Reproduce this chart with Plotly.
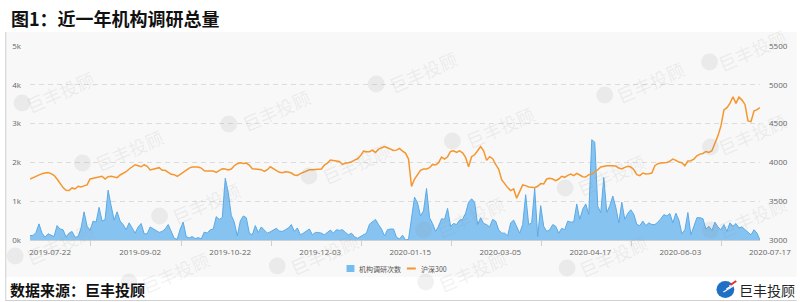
import plotly.graph_objects as go

# ---------------- data ----------------
visits = [115,115,195,416,177,71,160,133,88,372, 283,265,71,177,221,71,88,310,726,354,
          248,487,460,841,487,531,1283,885,513,726, 487,398,265,442,310,177,336,425,160,160,
          336,283,248,195,221,283,398,195,44,18,
          283,460,88,53,88,35,62,27,204,177, 265,283,602,531,575,1593,1221,637,460,106,
          487,620,575,177,133,372,195,336,265,177, 212,265,301,230,221,265,310,398,221,310,
          133,177,221,283,133,195,195,177,133,
          195,257,177,265,248,265,195,133,177,88, 44,88,124,177,407,460,531,398,283,106,
          265,283,283,71,27,124,0,18,620,1106, 956,620,752,1328,575,425,221,354,549,531,
          814,354,425,398,513,531,690,974,1062,
          974,398,575,425,398,336,531,487,265,177, 177,106,442,513,354,177,398,1168,398,442,
          1328,88,885,354,221,265,398,354,177,301, 265,487,460,469,929,531,796,929,664,2584,
          2522,867,708,1611,708,885,1133,841,442,974,
          531,690,779,664,398,372,487,372,442,398, 398,460,549,655,620,681,442,690,513,160,
          265,708,133,354,575,575,549,283,354,248, 460,336,265,398,221,442,354,425,310,336,
          265,195,133,265,177,0]

csi300 = [3786,3804,3825,3842,3855,3863,3868,3855,3833,3786, 3727,3675,3641,3637,3671,3658,3692,3684,3697,3710,
          3786,3795,3795,3804,3821,3786,3816,3821,3816,3804, 3838,3855,3880,3915,3944,3970,3957,3944,3970,3949,
          3902,3915,3923,3932,3898,3898,3872,3846,3842,3821,
          3846,3872,3902,3927,3940,3944,3940,3927,3893,3889, 3885,3889,3872,3893,3919,3915,3902,3915,3957,3983,
          3996,3987,3991,3966,3919,3915,3915,3906,3885,3906, 3944,3923,3898,3872,3868,3880,3876,3863,3838,3833,
          3855,3872,3893,3906,3906,3906,3910,3915,
          3966,3991,4030,4026,4021,4013,3974,3991,3996,4004, 4030,4047,4085,4145,4137,4137,4158,4128,4171,4184,
          4205,4188,4167,4154,4158,4180,4145,4120,4043,3689, 3786,3850,3898,3915,3915,3932,3974,3966,3996,4068,
          4043,4073,4141,4150,4128,4150,4124,4064,3944,4073,
          4098,4150,4205,4150,4026,4073,4047,3974,3915,3778, 3723,3675,3637,3658,3539,3624,3710,3701,3684,3680,
          3675,3692,3727,3723,3786,3795,3786,3765,3786,3821, 3808,3833,3850,3829,3859,3838,3816,3812,3842,3850,
          3876,3906,3940,3953,3957,3957,3957,3953,3927,
          3915,3936,3949,3940,3906,3842,3829,3863,3850,3855, 3863,3957,3983,3991,3991,4000,4017,4043,4026,4004,
          3996,3957,4017,4021,4043,4085,4107,4115,4141,4128, 4150,4235,4342,4470,4675,4705,4760,4846,4760,4841,
          4803,4747,4534,4525,4662,4679,4705]

date_labels = ["2019-07-22", "2019-09-02", "2019-10-22", "2019-12-03",
               "2020-01-15", "2020-03-05", "2020-04-17", "2020-06-03", "2020-07-17"]
left_ticks = [0, 1000, 2000, 3000, 4000, 5000]
left_text = ["0k", "1k", "2k", "3k", "4k", "5k"]
right_ticks = [3000, 3500, 4000, 4500, 5000, 5500]
series_names = ["机构调研次数", "沪深300"]

# ---------------- layout helpers ----------------
W, H = 800, 302
L, R, T, B = 25, 37, 46, 62
PW, PH = W - L - R, H - T - B


def px(x):
    return (x - L) / PW


def py(y):
    return (H - B - y) / PH


n = len(visits)
xs = list(range(n))
label_pos = [6.7 + 29.97 * k for k in range(len(date_labels))]
minor_pos = [p + 13.6 for p in label_pos[:-1]]
minor_pos = [p for p in minor_pos if 0 <= p <= n - 1]

BLUE_FILL = "rgba(102,180,238,0.78)"
BLUE_LINE = "#5aaae6"
ORANGE = "#f5962e"
TICKFONT = dict(family="Open Sans, Liberation Sans, sans-serif", size=8, color="#666")

fig = go.Figure()
fig.add_trace(go.Scatter(x=xs, y=visits, mode="lines", fill="tozeroy",
                         line=dict(color=BLUE_LINE, width=1), fillcolor=BLUE_FILL,
                         name=series_names[0], showlegend=False))
fig.add_trace(go.Scatter(x=xs, y=csi300, mode="lines", yaxis="y2",
                         line=dict(color=ORANGE, width=1.5),
                         name=series_names[1], showlegend=False))

shapes = []
annotations = []

# chart background band
shapes.append(dict(type="rect", xref="paper", yref="paper",
                   x0=px(0), x1=px(800), y0=py(277), y1=py(32),
                   fillcolor="#f8f8f8", line=dict(width=0), layer="below"))
# border lines
shapes.append(dict(type="line", xref="paper", yref="paper",
                   x0=px(0.5), x1=px(0.5), y0=py(301), y1=py(32),
                   line=dict(color="#d0d0d0", width=1), layer="below"))
shapes.append(dict(type="line", xref="paper", yref="paper",
                   x0=px(0), x1=px(800), y0=py(300.5), y1=py(300.5),
                   line=dict(color="#d0d0d0", width=1), layer="below"))

# watermarks (logo circle + rotated text)
wm_units = [(17, 103, 55, 92), (78, 163, 125, 150), (156, 216, 203, 203),
            (226, 124, 274, 110), (307, 176, 355, 163), (375, 84, 422, 72),
            (452, 141, 500, 127), (423, 230, 470, 217), (566, 188, 612, 175),
            (606, 95, 652, 82), (713, 147, 755, 134), (713, 230, 755, 217),
            (712, 62, 755, 50), (10, 256, 55, 244), (275, 266, 322, 254),
            (568, 268, 614, 256), (125, 282, 172, 272), (425, 282, 472, 271)]
WM = "rgba(140,140,140,0.12)"
for lx, ly, tx, ty in wm_units:
    r = 8.5
    shapes.append(dict(type="circle", xref="paper", yref="paper",
                       x0=px(lx - r), x1=px(lx + r), y0=py(ly + r), y1=py(ly - r),
                       fillcolor=WM, line=dict(width=0), layer="above"))
    annotations.append(dict(text="巨丰投顾", xref="paper", yref="paper",
                            x=px(tx), y=py(ty), showarrow=False, textangle=-24,
                            font=dict(family="Noto Sans CJK SC", size=18, color=WM),
                            xanchor="center", yanchor="middle"))

# title and footer
annotations.append(dict(text="<b>图1：近一年机构调研总量</b>", xref="paper", yref="paper",
                        x=px(4), y=py(18), xanchor="left", yanchor="middle", showarrow=False,
                        font=dict(family="Noto Sans CJK SC", size=18, color="#111")))
annotations.append(dict(text="<b>数据来源：巨丰投顾</b>", xref="paper", yref="paper",
                        x=px(3), y=py(289), xanchor="left", yanchor="middle", showarrow=False,
                        font=dict(family="Noto Sans CJK SC", size=15, color="#111")))
# footer logo
shapes.append(dict(type="circle", xref="paper", yref="paper",
                   x0=px(719), x1=px(737), y0=py(298), y1=py(281),
                   fillcolor="#1f6fc4", line=dict(width=0), layer="above"))
for off in [0, 3, 6]:
    shapes.append(dict(type="line", xref="paper", yref="paper",
                       x0=px(726 + off), x1=px(736 + off), y0=py(292 - off), y1=py(286 - off),
                       line=dict(color="white", width=1.2), layer="above"))
shapes.append(dict(type="line", xref="paper", yref="paper",
                   x0=px(733), x1=px(739), y0=py(285), y1=py(281),
                   line=dict(color="#e0302a", width=2), layer="above"))
annotations.append(dict(text="巨丰投顾", xref="paper", yref="paper",
                        x=px(770), y=py(290), xanchor="center", yanchor="middle", showarrow=False,
                        font=dict(family="Noto Sans CJK SC", size=14, color="#222")))

# legend (manual)
shapes.append(dict(type="rect", xref="paper", yref="paper",
                   x0=px(345), x1=px(353), y0=py(272), y1=py(265),
                   fillcolor="#74bdf0", line=dict(width=0)))
annotations.append(dict(text=series_names[0], xref="paper", yref="paper",
                        x=px(356), y=py(268.5), xanchor="left", yanchor="middle", showarrow=False,
                        font=dict(family="Noto Sans CJK SC", size=7, color="#555")))
shapes.append(dict(type="line", xref="paper", yref="paper",
                   x0=px(406), x1=px(415), y0=py(268.5), y1=py(268.5),
                   line=dict(color=ORANGE, width=2)))
annotations.append(dict(text=series_names[1], xref="paper", yref="paper",
                        x=px(418), y=py(268.5), xanchor="left", yanchor="middle", showarrow=False,
                        font=dict(family="Noto Sans CJK SC", size=7, color="#555")))

# last date label (falls just beyond the plot edge)
annotations.append(dict(text=date_labels[-1], xref="paper", yref="paper",
                        x=px(773), y=py(251), xanchor="center", yanchor="middle", showarrow=False,
                        font=TICKFONT))

fig.update_layout(
    width=W, height=H,
    margin=dict(l=L, r=R, t=T, b=B, pad=0),
    paper_bgcolor="white", plot_bgcolor="rgba(0,0,0,0)",
    showlegend=False,
    xaxis=dict(range=[0, n - 1], tickmode="array", tickvals=label_pos[:-1],
               ticktext=date_labels[:-1], tickfont=TICKFONT, ticks="",
               showgrid=False, zeroline=False, showline=True, linecolor="#cfcfcf",
               ticklabelstandoff=4,
               minor=dict(tickmode="array", tickvals=minor_pos, ticks="outside",
                          ticklen=5, tickcolor="#cfcfcf", showgrid=False)),
    yaxis=dict(range=[0, 5000], tickmode="array", tickvals=left_ticks, ticktext=left_text,
               tickfont=TICKFONT, showgrid=True, gridcolor="#dcdcdc", griddash="5px,4px",
               gridwidth=1, zeroline=False, ticks="", ticklabelstandoff=8),
    yaxis2=dict(range=[3000, 5500], overlaying="y", side="right", tickmode="array",
                tickvals=right_ticks, tickfont=TICKFONT, showgrid=False, zeroline=False,
                ticks="", ticklabelstandoff=8),
    shapes=shapes, annotations=annotations,
)

fig.write_html("out.html")
